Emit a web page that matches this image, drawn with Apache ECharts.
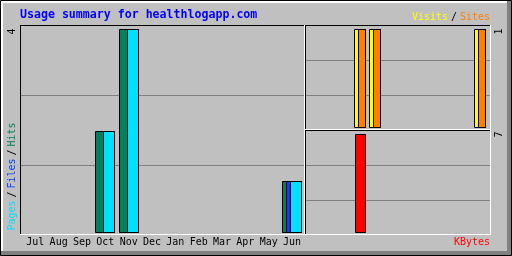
<!DOCTYPE html>
<html><head><meta charset="utf-8">
<script src="https://cdn.jsdelivr.net/npm/echarts@6/dist/echarts.min.js"></script>
<style>html,body{margin:0;padding:0;background:#c0c0c0}#c{width:512px;height:256px}</style>
</head><body><div id="c"></div>
<script>
// ---- data ----
const months = ['Jul','Aug','Sep','Oct','Nov','Dec','Jan','Feb','Mar','Apr','May','Jun'];
const hits   = [0,0,0,2,4,0,0,0,0,0,0,1];
const files  = [0,0,0,0,0,0,0,0,0,0,0,1];
const pages  = [0,0,0,2,4,0,0,0,0,0,0,1];
const visits = [0,0,0,1,1,0,0,0,0,0,0,1];
const sites  = [0,0,0,1,1,0,0,0,0,0,0,1];
const kbytes = [0,0,0,7,0,0,0,0,0,0,0,0];
const titleText = 'Usage summary for healthlogapp.com';
const leftLegend = ['Pages','/','Files','/','Hits'];
const rightLegend = ['Visits','/','Sites'];
const kbytesLabel = 'KBytes';

// ---- styling ----
const C = {hits:'#00805C', files:'#0040FF', pages:'#00E0FF', visits:'#FFFF00', sites:'#FF8000',
           kbytes:'#FF0000', dk:'#808080', grey:'#C0C0C0', black:'#000000', white:'#FFFFFF', blue:'#0000FF'};
const MONO = '"DejaVu Sans Mono", monospace';

const maxL = Math.max(...hits, ...files, ...pages);
const maxV = Math.max(...visits, ...sites);
const maxK = Math.max(...kbytes);

function rect(x,y,w,h,fill,z){ return {type:'rect', silent:true, z:z||0, shape:{x,y,width:w,height:h}, style:{fill}}; }
function txt(x,y,text,color,opts){
  opts = opts||{};
  return {type:'text', silent:true, z:10, x, y, rotation: opts.rot||0,
    style:{text, fill:color, font:(opts.bold?'bold ':'')+(opts.size||10)+'px '+MONO,
      align:opts.align||'left', verticalAlign:opts.va||'middle',
      textShadowColor: opts.shadow?C.dk:'transparent', textShadowOffsetX: opts.shadow?1:0, textShadowOffsetY: opts.shadow?1:0, textShadowBlur:0}};
}

const g = [];
// outer bevel
g.push(rect(1,1,510,2,C.white));
g.push(rect(1,1,2,254,C.white));
g.push(rect(507,1,4,254,C.dk));
g.push(rect(1,251,510,4,C.dk));
g.push({type:'rect', silent:true, z:0, shape:{x:0.5,y:0.5,width:511,height:255}, style:{fill:null, stroke:C.black, lineWidth:1}});
// panels
function panel(x1,y1,x2,y2){
  g.push(rect(x1,y1,x2-x1+1,1,C.black));
  g.push(rect(x1,y1,1,y2-y1+1,C.black));
  g.push(rect(x2,y1,1,y2-y1+1,C.white));
  g.push(rect(x1,y2,x2-x1+1,1,C.white));
}
panel(20,25,304,234);
panel(305,25,490,129);
panel(305,130,490,234);
// index lines
g.push(rect(21,95,283,1,C.dk)); g.push(rect(21,165,283,1,C.dk));
g.push(rect(306,60,184,1,C.dk)); g.push(rect(306,95,184,1,C.dk));
g.push(rect(306,165,184,1,C.dk)); g.push(rect(306,200,184,1,C.dk));

// title
g.push(txt(20,9,titleText,C.blue,{bold:true,size:11.6,va:'top'}));
// max labels (rotated)
const R = Math.PI/2;
g.push(txt(12.5,34.5,String(maxL),C.black,{rot:R}));
g.push(txt(499.5,34.5,String(maxV),C.black,{rot:R}));
g.push(txt(499.5,137.5,String(maxK),C.black,{rot:R}));
// left legend (vertical)
const leftCols = [C.pages,C.black,C.files,C.black,C.hits];
let yy = 230.5;
leftLegend.forEach((s,k)=>{
  g.push(txt(12.5,yy,s,leftCols[k],{rot:R,shadow:true}));
  yy -= s.length*6 + 3;
});
// right legend
const rightCols = [C.visits,C.black,C.sites];
let xx = 412;
rightLegend.forEach((s,k)=>{
  g.push(txt(xx,17,s,rightCols[k],{shadow:true}));
  xx += s.length*6 + 3;
});
g.push(txt(490,242.5,kbytesLabel,C.kbytes,{shadow:true,align:'right'}));

function barsLeft(params, api){
  const i = api.value(0);
  const base = api.coord([i,0]);
  const x1 = Math.round(base[0]-10);
  const y0 = Math.round(base[1]);
  const specs = [[1,C.hits,0,19],[2,C.files,4,15],[3,C.pages,8,11]];
  const ch = [];
  specs.forEach(([d,col,off,w])=>{
    const v = api.value(d); if (!(v>0)) return;
    const top = Math.round(api.coord([i,v])[1]);
    ch.push({type:'rect', shape:{x:x1+off+0.5,y:top+0.5,width:w,height:y0-top}, style:{fill:col,stroke:C.black,lineWidth:1}});
  });
  return {type:'group', children:ch};
}
function barsVS(params, api){
  const i = api.value(0);
  const base = api.coord([i,0]);
  const x1 = Math.round(base[0]-6);
  const y0 = Math.round(base[1]);
  const specs = [[1,C.visits,0,11],[2,C.sites,4,7]];
  const ch = [];
  specs.forEach(([d,col,off,w])=>{
    const v = api.value(d); if (!(v>0)) return;
    const top = Math.round(api.coord([i,v])[1]);
    ch.push({type:'rect', shape:{x:x1+off+0.5,y:top+0.5,width:w,height:y0-top}, style:{fill:col,stroke:C.black,lineWidth:1}});
  });
  return {type:'group', children:ch};
}
function barsK(params, api){
  const i = api.value(0);
  const base = api.coord([i,0]);
  const x1 = Math.round(base[0]-6);
  const y0 = Math.round(base[1]);
  const v = api.value(1);
  if (!(v>0)) return {type:'group', children:[]};
  const top = Math.round(api.coord([i,v])[1]);
  return {type:'rect', shape:{x:x1+1.5,y:top+0.5,width:10,height:y0-top}, style:{fill:C.kbytes,stroke:C.black,lineWidth:1}};
}

const hiddenX = (gi)=>({type:'category', gridIndex:gi, data:months, show:false, boundaryGap:true});
const hiddenY = (gi,max)=>({type:'value', gridIndex:gi, min:0, max, show:false, splitLine:{show:false}});

const chart = echarts.init(document.getElementById('c'), null, {renderer:'canvas'});
chart.setOption({
  animation:false,
  backgroundColor:C.grey,
  grid:[
    {left:23.63, top:29, width:280.08, height:203},
    {left:307.5, top:29, width:180, height:98},
    {left:307.5, top:134, width:180, height:98}
  ],
  xAxis:[
    {type:'category', gridIndex:0, data:months, boundaryGap:true,
     axisLine:{show:false}, axisTick:{show:false}, splitLine:{show:false},
     axisLabel:{interval:0, color:C.black, fontFamily:MONO, fontSize:10, margin:10, verticalAlign:'middle'}},
    hiddenX(1), hiddenX(2)
  ],
  yAxis:[hiddenY(0,maxL), hiddenY(1,maxV), hiddenY(2,maxK)],
  graphic:{elements:g},
  series:[
    {type:'custom', xAxisIndex:0, yAxisIndex:0, silent:true, z:5, renderItem:barsLeft,
     data:months.map((m,i)=>[i,hits[i],files[i],pages[i]])},
    {type:'custom', xAxisIndex:1, yAxisIndex:1, silent:true, z:5, renderItem:barsVS,
     data:months.map((m,i)=>[i,visits[i],sites[i]])},
    {type:'custom', xAxisIndex:2, yAxisIndex:2, silent:true, z:5, renderItem:barsK,
     data:months.map((m,i)=>[i,kbytes[i]])}
  ]
});
</script></body></html>
